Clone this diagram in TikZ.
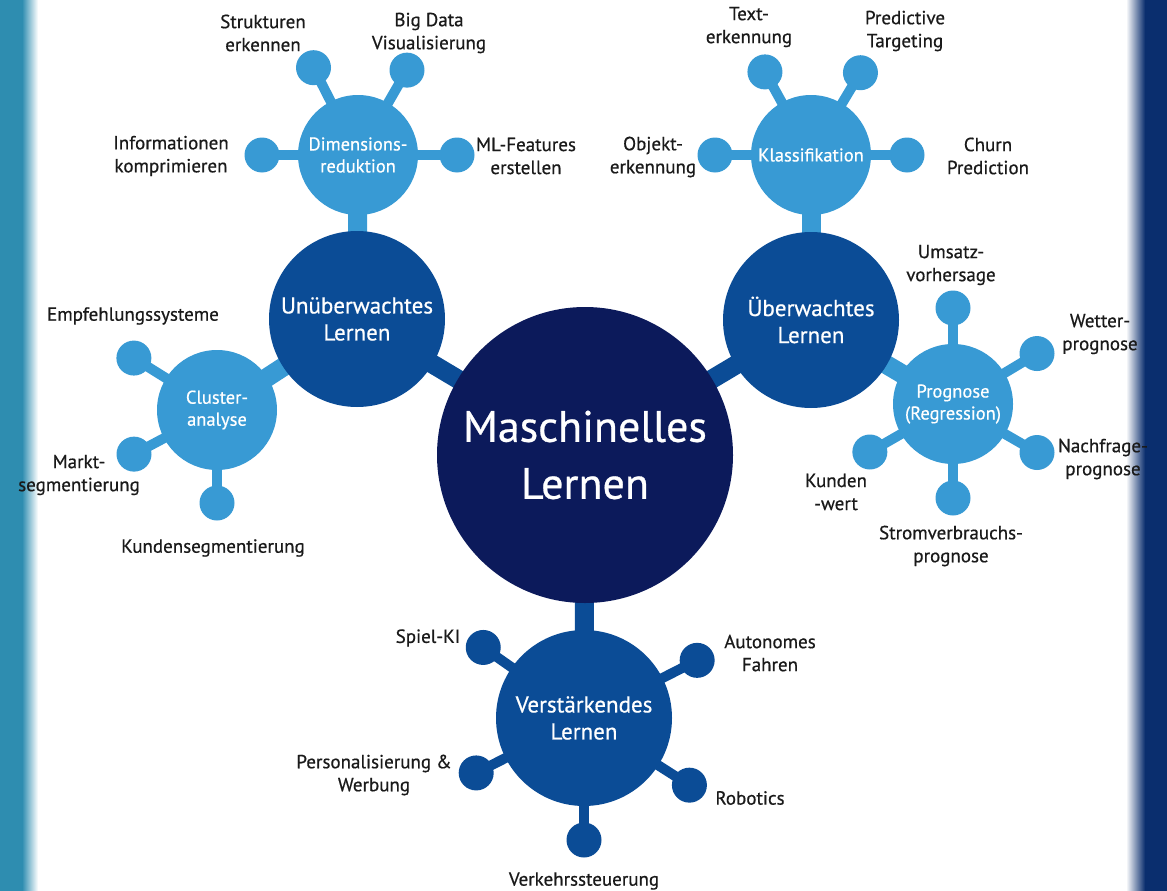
\documentclass[tikz,border=0pt]{standalone}
\usepackage{fontspec}
\setmainfont{PT Sans}[FakeBold=0.6]
\definecolor{navyml}{HTML}{0C1A5B}
\definecolor{midblue}{HTML}{0B4C96}
\definecolor{lightblue}{HTML}{389AD4}
\definecolor{leftteal}{HTML}{2E8DB0}
\definecolor{rightnavy}{HTML}{0A2E6E}
\definecolor{labelcol}{HTML}{1A1A1A}
\pgfdeclarelayer{bg}
\pgfsetlayers{bg,main}
\tikzset{
  mlnode/.style={circle, fill=navyml, minimum size=296pt, inner sep=0pt, text=white, align=center, font=\fontsize{44}{57}\selectfont},
  lvtwo/.style={circle, fill=midblue, minimum size=176pt, inner sep=0pt, text=white, align=center, font=\fontsize{23}{27}\selectfont},
  lvthree/.style={circle, fill=lightblue, minimum size=120pt, inner sep=0pt, text=white, align=center, font=\fontsize{18.5}{22}\selectfont},
  knob/.style={circle, fill=#1, minimum size=35pt, inner sep=0pt},
  lbl/.style={text=labelcol, align=center, font=\fontsize{19}{23}\selectfont, inner sep=0pt},
  mainbar/.style={line width=19pt, draw=#1},
  stub/.style={line width=10pt, draw=#1}
}
\begin{document}
\begin{tikzpicture}[x=1pt,y=-1pt]
\useasboundingbox (0,0) rectangle (1167,891);
% borders
\begin{pgfonlayer}{bg}
\fill[leftteal] (0,0) rectangle (22,891);
\shade[left color=leftteal, right color=white] (22,0) rectangle (38,891);
\shade[left color=white, right color=rightnavy] (1126,0) rectangle (1145,891);
\fill[rightnavy] (1145,0) rectangle (1167,891);
\end{pgfonlayer}

% main nodes
\node[mlnode] (ml) at (585,455) {Maschinelles\\Lernen};
\node[lvtwo] (unu) at (357,319) {Unüberwachtes\\Lernen};
\node[lvtwo] (ueb) at (811,320) {Überwachtes\\Lernen};
\node[lvtwo] (ver) at (584,718) {Verstärkendes\\Lernen};
\node[lvthree] (dim) at (358,155) {Dimensions-\\reduktion};
\node[lvthree] (kla) at (811,155) {Klassifikation};
\node[lvthree] (clu) at (217,410) {Cluster-\\analyse};
\node[lvthree] (pro) at (953,404) {Prognose\\(Regression)};

% knobs of Dimensionsreduktion
\node[knob=lightblue] (d1) at ([shift={(180:96pt)}]dim.center) {};
\node[knob=lightblue] (d2) at ([shift={(117:98pt)}]dim.center) {};
\node[knob=lightblue] (d3) at ([shift={(60:98pt)}]dim.center) {};
\node[knob=lightblue] (d4) at ([shift={(0:99pt)}]dim.center) {};
% knobs of Klassifikation
\node[knob=lightblue] (k1) at ([shift={(180:96pt)}]kla.center) {};
\node[knob=lightblue] (k2) at ([shift={(119:95pt)}]kla.center) {};
\node[knob=lightblue] (k3) at ([shift={(59:96pt)}]kla.center) {};
\node[knob=lightblue] (k4) at ([shift={(0:96pt)}]kla.center) {};
% knobs of Clusteranalyse
\node[knob=lightblue] (c1) at ([shift={(148:98pt)}]clu.center) {};
\node[knob=lightblue] (c2) at ([shift={(208:94pt)}]clu.center) {};
\node[knob=lightblue] (c3) at ([shift={(270:93pt)}]clu.center) {};
% knobs of Prognose
\node[knob=lightblue] (p1) at ([shift={(90:96pt)}]pro.center) {};
\node[knob=lightblue] (p2) at ([shift={(31:98pt)}]pro.center) {};
\node[knob=lightblue] (p3) at ([shift={(-30:97pt)}]pro.center) {};
\node[knob=lightblue] (p4) at ([shift={(270:94pt)}]pro.center) {};
\node[knob=lightblue] (p5) at ([shift={(210:96pt)}]pro.center) {};
% knobs of Verstaerkendes Lernen
\node[knob=midblue] (v1) at ([shift={(145:123pt)}]ver.center) {};
\node[knob=midblue] (v2) at ([shift={(27:127pt)}]ver.center) {};
\node[knob=midblue] (v3) at ([shift={(207:121pt)}]ver.center) {};
\node[knob=midblue] (v4) at ([shift={(-32.5:125pt)}]ver.center) {};
\node[knob=midblue] (v5) at ([shift={(270:122pt)}]ver.center) {};

% connectors
\begin{pgfonlayer}{bg}
\draw[mainbar=midblue] (ml.center) -- (unu.center);
\draw[mainbar=midblue] (ml.center) -- (ueb.center);
\draw[mainbar=midblue] (ml.center) -- (ver.center);
\draw[mainbar=lightblue] (unu.center) -- (dim.center);
\draw[mainbar=lightblue] (unu.center) -- (clu.center);
\draw[mainbar=lightblue] (ueb.center) -- (kla.center);
\draw[mainbar=lightblue] (ueb.center) -- (pro.center);
\foreach \k in {d1,d2,d3,d4} \draw[stub=lightblue] (dim.center) -- (\k.center);
\foreach \k in {k1,k2,k3,k4} \draw[stub=lightblue] (kla.center) -- (\k.center);
\foreach \k in {c1,c2,c3} \draw[stub=lightblue] (clu.center) -- (\k.center);
\foreach \k in {p1,p2,p3,p4,p5} \draw[stub=lightblue] (pro.center) -- (\k.center);
\foreach \k in {v1,v2,v3,v4,v5} \draw[stub=midblue] (ver.center) -- (\k.center);
\end{pgfonlayer}

% labels
\node[lbl] (l-d2) at (263,33) {Strukturen\\erkennen};
\node[lbl] (l-d3) at (429,33) {Big Data\\Visualisierung};
\node[lbl] (l-d1) at (171,156) {Informationen\\komprimieren};
\node[lbl] (l-d4) at (526,156) {ML-Features\\erstellen};
\node[lbl] (l-k2) at (749,27) {Text-\\erkennung};
\node[lbl] (l-k3) at (905,31) {Predictive\\Targeting};
\node[lbl] (l-k1) at (653,157) {Objekt-\\erkennung};
\node[lbl] (l-k4) at (988,156) {Churn\\Prediction};
\node[lbl] (l-p1) at (951,265) {Umsatz-\\vorhersage};
\node[lbl] (l-p2) at (1100,334) {Wetter-\\prognose};
\node[lbl] (l-p3) at (1103,459) {Nachfrage-\\prognose};
\node[lbl] (l-p5) at (836,492) {Kunden\\-wert};
\node[lbl] (l-p4) at (951,546) {Stromverbrauchs-\\prognose};
\node[lbl] (l-c1) at (133,316) {Empfehlungssysteme};
\node[lbl] (l-c2) at (79,475) {Markt-\\segmentierung};
\node[lbl] (l-c3) at (213,548) {Kundensegmentierung};
\node[lbl] (l-v1) at (428,638) {Spiel-KI};
\node[lbl] (l-v2) at (770,653) {Autonomes\\Fahren};
\node[lbl] (l-v3) at (374,775) {Personalisierung \&\\Werbung};
\node[lbl] (l-v4) at (750,798) {Robotics};
\node[lbl] (l-v5) at (584,881) {Verkehrssteuerung};
\end{tikzpicture}
\end{document}
